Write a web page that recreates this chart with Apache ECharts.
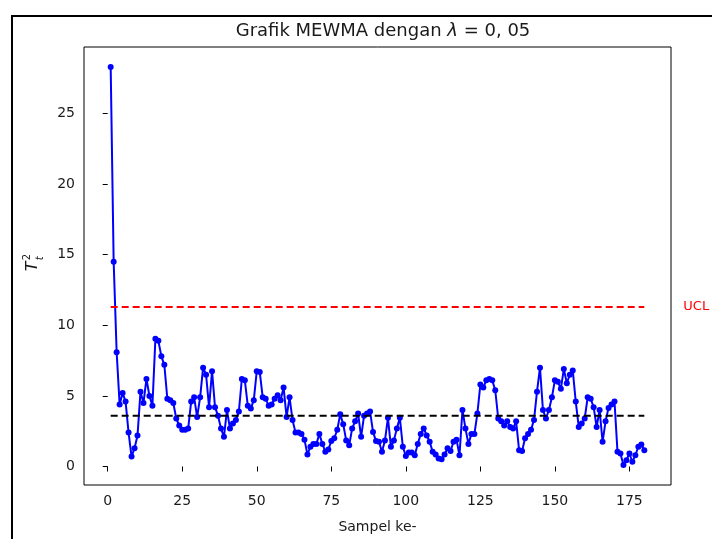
<!DOCTYPE html>
<html>
<head>
<meta charset="utf-8">
<title>Grafik MEWMA</title>
<script src="https://cdn.jsdelivr.net/npm/echarts@6.0.0/dist/echarts.min.js"></script>
<style>
  html, body { margin: 0; padding: 0; background: #fff; }
  #chart { width: 712px; height: 539px; }
</style>
</head>
<body>
<div id="chart"></div>
<script>
// statistik T^2 MEWMA untuk sampel ke-1 .. ke-180
const tSquared = [
  28.3, 14.5, 8.1, 4.4, 5.2, 4.6, 2.4, 0.7, 1.3, 2.2,
  5.3, 4.5, 6.2, 5.0, 4.3, 9.05, 8.9, 7.8, 7.2, 4.8,
  4.7, 4.5, 3.4, 2.9, 2.6, 2.6, 2.7, 4.6, 4.9, 3.5,
  4.9, 7.0, 6.5, 4.2, 6.75, 4.2, 3.6, 2.7, 2.1, 4.0,
  2.7, 3.05, 3.3, 3.9, 6.2, 6.1, 4.3, 4.1, 4.7, 6.75,
  6.7, 4.9, 4.8, 4.3, 4.4, 4.8, 5.05, 4.7, 5.6, 3.5,
  4.9, 3.3, 2.4, 2.4, 2.3, 1.9, 0.85, 1.4, 1.6, 1.6,
  2.3, 1.6, 1.05, 1.2, 1.8, 2.0, 2.6, 3.7, 3.0, 1.85,
  1.5, 2.7, 3.2, 3.75, 2.1, 3.6, 3.75, 3.9, 2.45, 1.8,
  1.75, 1.05, 1.85, 3.45, 1.4, 1.85, 2.7, 3.45, 1.4, 0.75,
  1.0, 1.0, 0.8, 1.6, 2.3, 2.7, 2.2, 1.75, 1.05, 0.85,
  0.57, 0.52, 0.85, 1.3, 1.1, 1.75, 1.9, 0.8, 4.0, 2.7,
  1.6, 2.3, 2.3, 3.75, 5.8, 5.6, 6.1, 6.2, 6.1, 5.4,
  3.4, 3.2, 2.9, 3.2, 2.8, 2.7, 3.2, 1.15, 1.1, 2.0,
  2.3, 2.6, 3.3, 5.3, 7.0, 4.0, 3.4, 4.0, 4.9, 6.1,
  6.0, 5.5, 6.9, 5.9, 6.5, 6.8, 4.6, 2.8, 3.05, 3.4,
  4.9, 4.8, 4.2, 2.8, 4.0, 1.75, 3.2, 4.15, 4.4, 4.6,
  1.05, 0.92, 0.1, 0.45, 0.92, 0.33, 0.8, 1.4, 1.56, 1.15
];
const ucl = 11.3;
const centerLine = 3.6;
const xTicks = [0, 25, 50, 75, 100, 125, 150, 175];
const yTicks = [0, 5, 10, 15, 20, 25];

const font = "DejaVu Sans";
const chart = echarts.init(document.getElementById("chart"));

// titik sampel dimulai dari 1
const points = tSquared.map((v, i) => [i + 1, v]);
const firstX = 1;
const lastX = tSquared.length;

// batas sumbu ala matplotlib (margin 5%)
const xPad = (lastX - firstX) * 0.05;
const yMinData = Math.min(...tSquared);
const yMaxData = Math.max(...tSquared);
const yPad = (yMaxData - yMinData) * 0.05;

const option = {
  animation: false,
  textStyle: { fontFamily: font },
  title: {
    text: "Grafik MEWMA dengan {i|λ}{n| = 0, 05}",
    left: 378,
    textAlign: "center",
    top: 17,
    textStyle: {
      fontFamily: font,
      fontSize: 18,
      fontWeight: "normal",
      color: "#1a1a1a",
      rich: {
        i: { fontFamily: font, fontSize: 18, fontStyle: "italic", color: "#1a1a1a" },
        n: { fontFamily: font, fontSize: 18, color: "#1a1a1a" },
      },
    },
  },
  grid: {
    left: 84,
    right: 41,
    top: 47,
    bottom: 51,
    show: true,
    borderColor: "#000",
    borderWidth: 1,
  },
  xAxis: {
    type: "value",
    min: firstX - xPad,
    max: lastX + xPad,
    name: "Sampel ke-",
    nameLocation: "middle",
    nameGap: 35,
    nameTextStyle: { fontFamily: font, fontSize: 14, color: "#1a1a1a" },
    axisLine: { show: false },
    axisTick: {
      show: true,
      length: 5,
      customValues: xTicks,
      lineStyle: { color: "#000", width: 1 },
    },
    axisLabel: {
      customValues: xTicks,
      fontFamily: font,
      fontSize: 14,
      color: "#1a1a1a",
      margin: 9,
    },
    splitLine: { show: false },
  },
  yAxis: {
    type: "value",
    min: yMinData - yPad,
    max: yMaxData + yPad,
    axisLine: { show: false },
    axisTick: {
      show: true,
      length: 5,
      customValues: yTicks,
      lineStyle: { color: "#000", width: 1 },
    },
    axisLabel: {
      customValues: yTicks,
      fontFamily: font,
      fontSize: 14,
      color: "#1a1a1a",
      margin: 9,
    },
    splitLine: { show: false },
  },
  graphic: [
    {
      // bingkai tangkapan layar
      type: "polyline",
      shape: { points: [[12, 539], [12, 16], [712, 16]] },
      style: { stroke: "#000", lineWidth: 2, fill: null },
    },
    {
      type: "group",
      left: 22,
      top: 254,
      rotation: Math.PI / 2,
      children: [
        {
          type: "text",
          x: 0,
          y: 0,
          style: { text: "T", font: "italic 16px DejaVu Sans", fill: "#1a1a1a" },
        },
        {
          type: "text",
          x: 11,
          y: -3,
          style: { text: "2", font: "10px DejaVu Sans", fill: "#1a1a1a" },
        },
        {
          type: "text",
          x: 11,
          y: 10,
          style: { text: "t", font: "italic 10px DejaVu Sans", fill: "#1a1a1a" },
        },
      ],
    },
  ],
  series: [
    {
      name: "UCL",
      type: "line",
      data: [[firstX, ucl], [lastX, ucl]],
      symbol: "none",
      lineStyle: { color: "#ff0000", width: 2, type: [7, 4] },
      endLabel: {
        show: true,
        formatter: "UCL",
        distance: 39,
        fontFamily: font,
        fontSize: 13,
        color: "#ff0000",
      },
      z: 3,
    },
    {
      name: "CL",
      type: "line",
      data: [[firstX, centerLine], [lastX, centerLine]],
      symbol: "none",
      lineStyle: { color: "#000", width: 2, type: [7, 4] },
      z: 3,
    },
    {
      name: "T2",
      type: "line",
      data: points,
      symbol: "circle",
      symbolSize: 6,
      showAllSymbol: true,
      itemStyle: { color: "#0000ff", borderWidth: 0 },
      lineStyle: { color: "#0000ff", width: 2 },
      z: 2,
    },
  ],
};
chart.setOption(option);
</script>
</body>
</html>
